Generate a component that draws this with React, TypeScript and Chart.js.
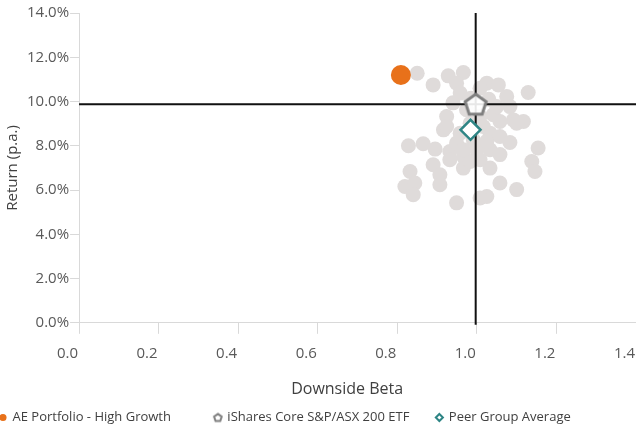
import React, { useEffect, useRef } from "react";
import { Chart, registerables } from "chart.js";

Chart.register(...registerables);

// ---- Data ----
const aeBeta = [0.809];
const aeReturn = [11.2];

const ishBeta = [0.997];
const ishReturn = [9.88];

const peerAvgBeta = [0.984];
const peerAvgReturn = [8.72];

const peersBeta = [
  0.85, 0.89, 0.928, 0.966, 0.949, 1.025, 1.054, 1.129, 1.075, 1.008, 0.958, 0.94, 1.083, 0.924, 1.041, 1.092,
  1.117, 0.916, 1.033, 1.058, 0.828, 0.865, 0.895, 0.932, 0.966, 0.999, 1.033, 1.058, 1.083, 1.154, 1.138, 1.146,
  0.89, 0.832, 0.907, 0.966, 1.033, 0.819, 0.844, 0.84, 0.907, 1.058, 1.1, 0.949, 1.025, 1.008, 0.974, 1.008,
  0.983, 1.016, 0.958, 0.991, 1.025, 0.949, 1.058, 1.05, 0.924, 1.1, 1.008, 0.932, 0.983, 0.966, 0.985, 1.03,
];
const peersReturn = [
  11.28, 10.75, 11.16, 11.31, 10.83, 10.83, 10.75, 10.41, 10.23, 10.6, 10.38, 9.94, 9.77, 9.32, 9.4, 9.17,
  9.1, 8.72, 8.57, 8.42, 8.0, 8.09, 7.85, 7.74, 7.52, 7.82, 7.82, 7.6, 8.15, 7.9, 7.29, 6.84,
  7.14, 6.84, 6.69, 6.99, 6.99, 6.16, 6.32, 5.79, 6.24, 6.32, 6.02, 5.42, 5.71, 5.64, 9.63, 9.32,
  9.02, 8.87, 8.57, 8.27, 8.2, 8.12, 9.1, 9.77, 8.87, 9.02, 7.37, 7.37, 7.29, 7.82, 10.15, 10.1,
];

const seriesNames = ["AE Portfolio - High Growth", "iShares Core S&P/ASX 200 ETF", "Peer Group Average"];
const legendPads = ["             ", "        ", ""];

const xTitle = "Downside Beta";
const yTitle = "Return (p.a.)";

const ORANGE = "#E8711A";
const GREY_MARK = "#7f7f7f";
const TEAL = "#2E8585";
const PEER_GREY = "#dfdbda";
const AXIS_GREY = "#d9d9d9";

function makePentagon(r: number, lw: number, stroke: string, fill: string): HTMLCanvasElement {
  const size = Math.ceil(2 * r + lw * 2 + 2);
  const c = document.createElement("canvas");
  c.width = size;
  c.height = size;
  const ctx = c.getContext("2d")!;
  const cx = size / 2;
  const cy = size / 2 + r * 0.095;
  ctx.beginPath();
  for (let i = 0; i < 5; i++) {
    const a = -Math.PI / 2 + (i * 2 * Math.PI) / 5;
    const px = cx + r * Math.cos(a);
    const py = cy + r * Math.sin(a);
    if (i === 0) ctx.moveTo(px, py);
    else ctx.lineTo(px, py);
  }
  ctx.closePath();
  ctx.fillStyle = fill;
  ctx.fill();
  ctx.lineWidth = lw;
  ctx.strokeStyle = stroke;
  ctx.lineJoin = "miter";
  ctx.stroke();
  return c;
}

export default function App() {
  const canvasRef = useRef<HTMLCanvasElement | null>(null);

  useEffect(() => {
    document.body.style.margin = "0";
    const canvas = canvasRef.current;
    if (!canvas) return;

    const bigPent = makePentagon(11, 3, GREY_MARK, "rgba(255,255,255,0.9)");
    const smallPent = makePentagon(4, 2, GREY_MARK, "#ffffff");

    const PEERS_INDEX = 3;

    const crosshair = {
      id: "crosshair",
      afterDatasetDraw(chart: any, args: any) {
        if (args.index !== PEERS_INDEX) return;
        const { ctx, chartArea, scales } = chart;
        const px = scales.x.getPixelForValue(ishBeta[0]);
        const py = scales.y.getPixelForValue(ishReturn[0]);
        ctx.save();
        ctx.strokeStyle = "#111111";
        ctx.lineWidth = 2;
        ctx.beginPath();
        ctx.moveTo(px, chartArea.top);
        ctx.lineTo(px, chartArea.bottom + 2);
        ctx.moveTo(chartArea.left, py);
        ctx.lineTo(chartArea.right, py);
        ctx.stroke();
        ctx.restore();
      },
    };

    const legendShift = {
      id: "legendShift",
      afterLayout(chart: any) {
        const l = chart.legend;
        if (l) {
          l.top += 7;
          l.bottom += 7;
        }
      },
    };

    const toPts = (xs: number[], ys: number[]) => xs.map((v, i) => ({ x: v, y: ys[i] }));

    const chart = new Chart(canvas, {
      type: "scatter",
      data: {
        datasets: [
          {
            label: seriesNames[0],
            data: toPts(aeBeta, aeReturn),
            backgroundColor: ORANGE,
            borderWidth: 0,
            pointRadius: 10,
            pointStyle: "circle",
          },
          {
            label: seriesNames[1],
            data: toPts(ishBeta, ishReturn),
            pointStyle: bigPent as any,
            pointRadius: 11,
          },
          {
            label: seriesNames[2],
            data: toPts(peerAvgBeta, peerAvgReturn),
            backgroundColor: "#ffffff",
            borderColor: TEAL,
            borderWidth: 2.5,
            pointRadius: 10,
            pointStyle: "rectRot",
          },
          {
            label: "Peers",
            data: toPts(peersBeta, peersReturn),
            backgroundColor: PEER_GREY,
            borderWidth: 0,
            pointRadius: 7.5,
            pointStyle: "circle",
          },
        ],
      },
      options: {
        animation: false,
        responsive: false,
        layout: { autoPadding: false, padding: { top: 13, right: 0, left: 0, bottom: 0 } },
        plugins: {
          tooltip: { enabled: false },
          legend: {
            position: "bottom",
            align: "start",
            labels: {
              usePointStyle: true,
              boxWidth: 6,
              boxHeight: 5,
              padding: 0,
              color: "#404040",
              font: { family: "'Open Sans', sans-serif", size: 13 },
              generateLabels: () => [
                {
                  text: seriesNames[0] + legendPads[0],
                  fillStyle: ORANGE,
                  strokeStyle: ORANGE,
                  lineWidth: 0,
                  pointStyle: "circle",
                  hidden: false,
                  datasetIndex: 0,
                  fontColor: "#404040",
                } as any,
                {
                  text: seriesNames[1] + legendPads[1],
                  fillStyle: "#ffffff",
                  strokeStyle: GREY_MARK,
                  lineWidth: 0,
                  pointStyle: smallPent,
                  hidden: false,
                  datasetIndex: 1,
                  fontColor: "#404040",
                } as any,
                {
                  text: seriesNames[2] + legendPads[2],
                  fillStyle: "#ffffff",
                  strokeStyle: TEAL,
                  lineWidth: 2,
                  pointStyle: "rectRot",
                  hidden: false,
                  datasetIndex: 2,
                  fontColor: "#404040",
                } as any,
              ],
            },
          },
        },
        scales: {
          x: {
            type: "linear",
            min: 0,
            max: 1.4,
            ticks: {
              stepSize: 0.2,
              align: "end",
              labelOffset: -1,
              padding: 0,
              color: "#595959",
              font: { family: "'Open Sans', sans-serif", size: 15, lineHeight: 40 / 15 },
              callback: (v: any) => Number(v).toFixed(1),
            },
            grid: { drawOnChartArea: false, drawTicks: true, tickLength: 11, color: AXIS_GREY },
            border: { color: AXIS_GREY, width: 1 },
            title: {
              display: true,
              text: xTitle + "     ",
              color: "#404040",
              font: { family: "'Open Sans', sans-serif", size: 16 },
              padding: { top: 6, bottom: 5 },
            },
          },
          y: {
            type: "linear",
            min: 0,
            max: 14,
            ticks: {
              stepSize: 2,
              padding: 1,
              color: "#595959",
              font: { family: "'Open Sans', sans-serif", size: 15 },
              callback: (v: any) => Number(v).toFixed(1) + "%",
            },
            grid: { drawOnChartArea: false, drawTicks: true, tickLength: 9, color: AXIS_GREY },
            border: { color: AXIS_GREY, width: 1 },
            title: {
              display: true,
              text: yTitle,
              color: "#404040",
              font: { family: "'Open Sans', sans-serif", size: 15 },
              padding: { top: 4, bottom: 4 },
            },
          },
        },
      },
      plugins: [crosshair, legendShift],
    });

    return () => {
      chart.destroy();
    };
  }, []);

  return (
    <div style={{ width: 636, height: 427, position: "relative" }}>
      <canvas ref={canvasRef} width={636} height={427} style={{ display: "block" }} />
    </div>
  );
}
